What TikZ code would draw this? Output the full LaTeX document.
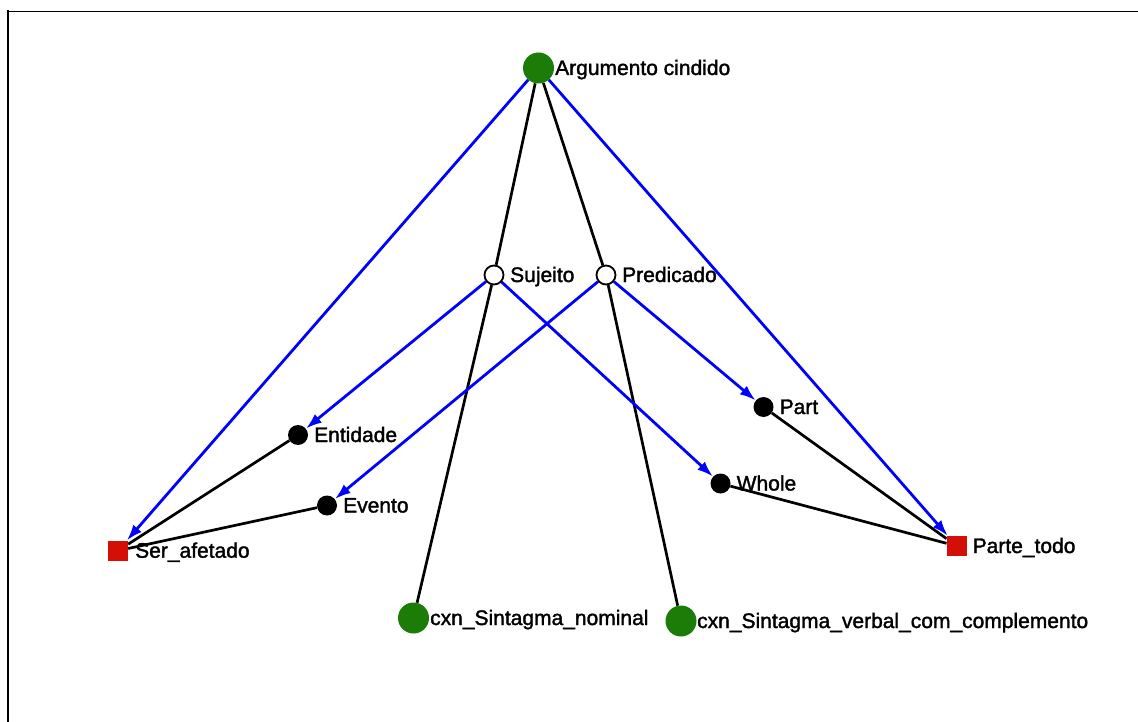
\documentclass[tikz,border=0pt]{standalone}
\usepackage{fontspec}
\setmainfont{Liberation Sans}
\newfontfamily\labfont{Liberation Sans}[FakeBold=1.6]
\usetikzlibrary{arrows.meta}
\definecolor{cxngreen}{RGB}{28,124,8}
\definecolor{framered}{RGB}{212,16,6}
\pgfdeclarelayer{edges}
\pgfsetlayers{edges,main}
\begin{document}
\begin{tikzpicture}[x=1pt,y=-1pt,
  cxnnode/.style={circle,fill=cxngreen,minimum size=31pt,inner sep=0pt},
  rolenode/.style={circle,draw=black,line width=1.8pt,fill=white,minimum size=19pt,inner sep=0pt},
  elemnode/.style={circle,fill=black,minimum size=20pt,inner sep=0pt},
  framenode/.style={rectangle,fill=framered,minimum size=20pt,inner sep=0pt},
  lab/.style={anchor=base west,inner sep=0pt,font=\labfont\fontsize{21}{25}\selectfont},
  semlink/.style={line width=2.7pt,draw=black},
  evokes/.style={line width=2.8pt,draw=blue,-{Latex[length=16pt,width=11pt]}}]
\useasboundingbox (0,0) rectangle (1138,722);

% window frame
\draw[line width=1.4pt] (7,11.5) -- (1138,11.5);
\draw[line width=2.4pt] (8,10.5) -- (8,722);

% constructions
\node[cxnnode] (arg)  at (538.5,68) {};
\node[cxnnode] (nom)  at (413.5,618) {};
\node[cxnnode] (verb) at (681,621) {};
% constructional roles
\node[rolenode] (suj)  at (494,275) {};
\node[rolenode] (pred) at (606,275) {};
% frame elements
\node[elemnode] (ent)   at (298,435) {};
\node[elemnode] (evt)   at (327,505.5) {};
\node[elemnode] (part)  at (763.5,407) {};
\node[elemnode] (whole) at (720.5,483.5) {};
% frames
\node[framenode] (ser) at (118,550.7) {};
\node[framenode] (pt)  at (956.7,546) {};

% labels
\node[lab] (argL)   at (555,75)    {Argumento cindido};
\node[lab] (nomL)   at (430,625)   {cxn\_Sintagma\_nominal};
\node[lab] (verbL)  at (697,628)   {cxn\_Sintagma\_verbal\_com\_complemento};
\node[lab] (sujL)   at (510,282)   {Sujeito};
\node[lab] (predL)  at (622,282)   {Predicado};
\node[lab] (entL)   at (314,442)   {Entidade};
\node[lab] (evtL)   at (343,512.5) {Evento};
\node[lab] (partL)  at (779.5,414) {Part};
\node[lab] (wholeL) at (736.5,490.5) {Whole};
\node[lab] (serL)   at (135,557.7) {Ser\_afetado};
\node[lab] (ptL)    at (972.5,553) {Parte\_todo};

\begin{pgfonlayer}{edges}
  % structural links
  \draw[semlink] (arg) -- (suj);
  \draw[semlink] (arg) -- (pred);
  \draw[semlink] (suj) -- (nom);
  \draw[semlink] (pred) -- (verb);
  \draw[semlink] (ent) -- (ser);
  \draw[semlink] (evt) -- (ser);
  \draw[semlink] (part) -- (pt);
  \draw[semlink] (whole) -- (pt);
  % evoked frames and elements
  \draw[evokes] (arg) -- (ser);
  \draw[evokes] (arg) -- (pt);
  \draw[evokes] (suj) -- (ent);
  \draw[evokes] (suj) -- (whole);
  \draw[evokes] (pred) -- (evt);
  \draw[evokes] (pred) -- (part);
\end{pgfonlayer}
\end{tikzpicture}
\end{document}
